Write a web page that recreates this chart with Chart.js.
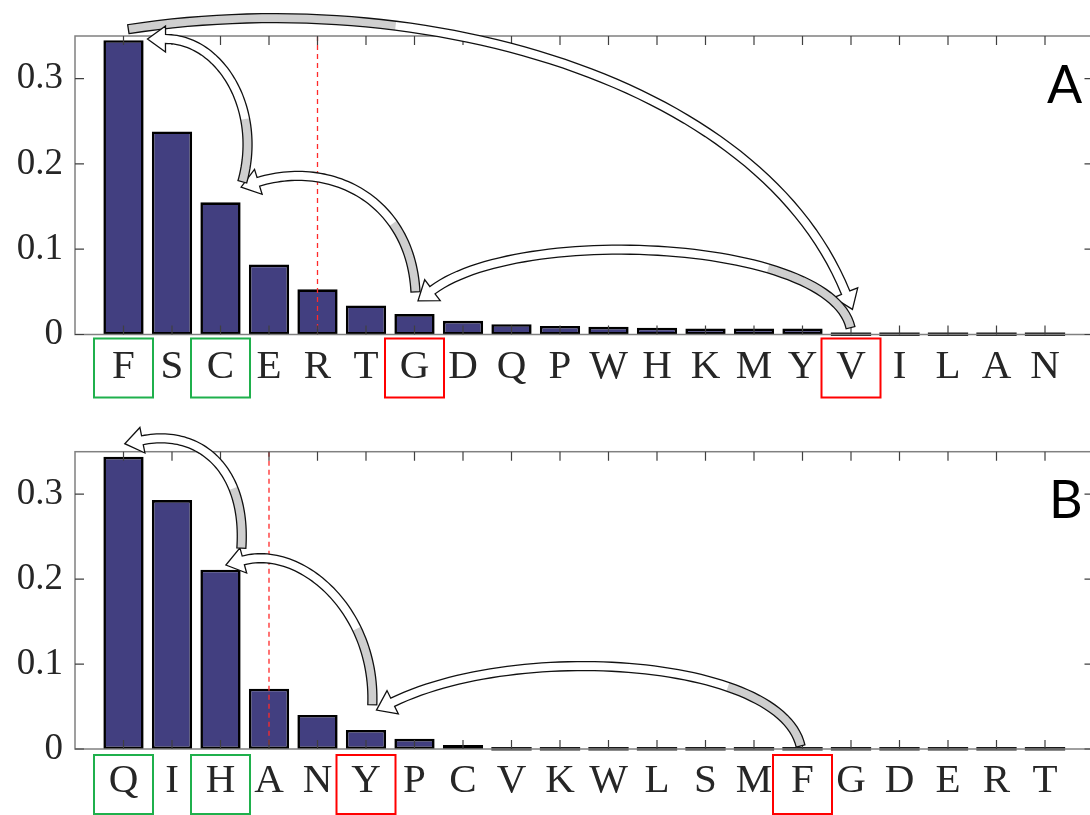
<!DOCTYPE html>
<html>
<head>
<meta charset="utf-8">
<script src="https://cdn.jsdelivr.net/npm/chart.js@4.4.1/dist/chart.umd.min.js"></script>
<style>
html, body { margin: 0; padding: 0; overflow: hidden; background: #fff; width: 1090px; height: 815px; }
canvas { position: absolute; left: 0; }
#graficoA { top: 0; }
#graficoB { top: 410px; }
.painel { position: absolute; font-family: Lato, sans-serif; font-size: 52px; line-height: 52px; color: #000; }
</style>
</head>
<body>
<canvas id="graficoA" width="1100" height="410"></canvas>
<canvas id="graficoB" width="1100" height="405"></canvas>
<div class="painel" style="left:1047px;top:57px">A</div>
<div class="painel" style="left:1049px;top:472px">B</div>
<script>
// dados
const categoriasA = ['F', 'S', 'C', 'E', 'R', 'T', 'G', 'D', 'Q', 'P', 'W', 'H', 'K', 'M', 'Y', 'V', 'I', 'L', 'A', 'N'];
const valoresA = [0.345, 0.238, 0.155, 0.082, 0.053, 0.034, 0.024, 0.016, 0.012, 0.010, 0.009, 0.008, 0.007, 0.007, 0.007, 0, 0, 0, 0, 0];

const categoriasB = ['Q', 'I', 'H', 'A', 'N', 'Y', 'P', 'C', 'V', 'K', 'W', 'L', 'S', 'M', 'F', 'G', 'D', 'E', 'R', 'T'];
const valoresB = [0.344, 0.293, 0.211, 0.071, 0.040, 0.0225, 0.012, 0.0047, 0, 0, 0, 0, 0, 0, 0, 0, 0, 0, 0, 0];

const ticksY = [0, 0.1, 0.2, 0.3];
const textosY = ['0', '0.1', '0.2', '0.3'];

const verdesA = ['F', 'C'];
const vermelhosA = ['G', 'V'];
const verdesB = ['Q', 'H'];
const vermelhosB = ['Y', 'F'];

const corteA = 'R';
const corteB = 'A';

// setas: pontos de controle [indice da categoria, valor]
const setasA = [
    [[0.1, 0.358], [6.12, 0.411], [13.1, 0.30], [14.89, 0.049]],      // F -> V
    [[14.99, 0.008], [14.58, 0.111], [8.19, 0.129], [6.37, 0.052]],   // V -> G
    [[6.02, 0.05], [5.92, 0.158], [4.27, 0.205], [2.78, 0.179]],      // G -> C
    [[2.45, 0.179], [2.87, 0.264], [2.0, 0.3465], [0.866, 0.3465]]    // C -> F
];
const setasB = [
    [[13.96, 0.0035], [13.55, 0.105], [8.19, 0.128], [5.55, 0.055]], // F -> Y
    [[5.13, 0.052], [5.2, 0.164], [3.65, 0.240], [2.47, 0.222]],     // Y -> H
    [[2.43, 0.2365], [2.54, 0.328], [1.59, 0.377], [0.39, 0.3635]]   // H -> Q
];

function pontoBezier(p, t) {
    const u = 1 - t;
    return {
        x: u * u * u * p[0].x + 3 * u * u * t * p[1].x + 3 * u * t * t * p[2].x + t * t * t * p[3].x,
        y: u * u * u * p[0].y + 3 * u * u * t * p[1].y + 3 * u * t * t * p[2].y + t * t * t * p[3].y
    };
}

function desenharSeta(ctx, p) {
    const N = 60, hw = 4.5, hh = 13, hl = 18, fracCinza = 0.3;
    const esq = [], dir = [];
    for (let i = 0; i <= N; i++) {
        const t = i / N;
        const a = pontoBezier(p, Math.max(0, t - 0.01));
        const b = pontoBezier(p, Math.min(1, t + 0.01));
        let dx = b.x - a.x, dy = b.y - a.y;
        const len = Math.hypot(dx, dy) || 1;
        dx /= len; dy /= len;
        const c = pontoBezier(p, t);
        esq.push({ x: c.x - dy * hw, y: c.y + dx * hw });
        dir.push({ x: c.x + dy * hw, y: c.y - dx * hw });
    }
    const fim = p[3];
    let dx = p[3].x - p[2].x, dy = p[3].y - p[2].y;
    const len = Math.hypot(dx, dy) || 1;
    dx /= len; dy /= len;
    const nx = -dy, ny = dx;

    const contorno = () => {
        ctx.beginPath();
        ctx.moveTo(esq[0].x, esq[0].y);
        for (let i = 1; i <= N; i++) ctx.lineTo(esq[i].x, esq[i].y);
        ctx.lineTo(fim.x + nx * hh, fim.y + ny * hh);
        ctx.lineTo(fim.x + dx * hl, fim.y + dy * hl);
        ctx.lineTo(fim.x - nx * hh, fim.y - ny * hh);
        for (let i = N; i >= 0; i--) ctx.lineTo(dir[i].x, dir[i].y);
        ctx.closePath();
    };

    contorno();
    ctx.fillStyle = '#ffffff';
    ctx.fill();

    const k = Math.round(N * fracCinza);
    ctx.beginPath();
    ctx.moveTo(esq[0].x, esq[0].y);
    for (let i = 1; i <= k; i++) ctx.lineTo(esq[i].x, esq[i].y);
    for (let i = k; i >= 0; i--) ctx.lineTo(dir[i].x, dir[i].y);
    ctx.closePath();
    ctx.fillStyle = '#cfcfcf';
    ctx.fill();

    contorno();
    ctx.strokeStyle = '#111';
    ctx.lineWidth = 1.3;
    ctx.stroke();
}

function criarGrafico(id, categorias, valores, cfg) {
    // posicao no eixo x: categoria i fica em i + 1 (limites 0 e 21, como no original)
    const posX = (i) => i + 1;

    const extras = {
        id: 'extras',
        afterDatasetsDraw(chart) {
            const ctx = chart.ctx;
            const area = chart.chartArea;
            const x = chart.scales.x;
            const y = chart.scales.y;
            ctx.save();

            // barras com valor zero aparecem como traco
            chart.getDatasetMeta(0).data.forEach(bar => {
                if (Math.abs(bar.base - bar.y) < 3) {
                    ctx.fillStyle = '#1a1a1a';
                    ctx.fillRect(bar.x - bar.width / 2, area.bottom - 2, bar.width, 3.5);
                }
            });

            // linha de corte
            const xc = x.getPixelForValue(posX(categorias.indexOf(cfg.corte)));
            ctx.strokeStyle = '#ff2a2a';
            ctx.lineWidth = 1.3;
            ctx.setLineDash([5, 4]);
            ctx.beginPath();
            ctx.moveTo(xc, area.top);
            ctx.lineTo(xc, area.bottom);
            ctx.stroke();
            ctx.setLineDash([]);

            // caixa do eixo
            ctx.strokeStyle = '#808080';
            ctx.lineWidth = 1.5;
            ctx.strokeRect(area.left, area.top, area.right - area.left, area.bottom - area.top);

            // ticks para dentro
            ctx.strokeStyle = '#404040';
            ctx.lineWidth = 1.2;
            ctx.beginPath();
            categorias.forEach((c, i) => {
                const px = x.getPixelForValue(posX(i));
                ctx.moveTo(px, area.bottom);
                ctx.lineTo(px, area.bottom - 9);
                ctx.moveTo(px, area.top);
                ctx.lineTo(px, area.top + 9);
            });
            ticksY.forEach(v => {
                const py = y.getPixelForValue(v);
                ctx.moveTo(area.left, py);
                ctx.lineTo(area.left + 9, py);
                ctx.moveTo(area.right, py);
                ctx.lineTo(area.right - 9, py);
            });
            ctx.stroke();

            // caixas nos rotulos
            ctx.lineWidth = 2;
            const caixa = (letra, cor) => {
                const px = x.getPixelForValue(posX(categorias.indexOf(letra)));
                ctx.strokeStyle = cor;
                ctx.strokeRect(px - 29.5, area.bottom + cfg.caixaTopo, 59, 59);
            };
            cfg.verdes.forEach(l => caixa(l, '#1fb04c'));
            cfg.vermelhos.forEach(l => caixa(l, '#ff0000'));

            // setas
            cfg.setas.forEach(s => {
                const pts = s.map(([i, v]) => ({ x: x.getPixelForValue(posX(i)), y: y.getPixelForValue(v) }));
                desenharSeta(ctx, pts);
            });

            ctx.restore();
        }
    };

    return new Chart(document.getElementById(id), {
        type: 'bar',
        data: {
            datasets: [{
                data: valores.map((v, i) => ({ x: posX(i), y: v })),
                backgroundColor: '#423f80',
                borderColor: '#000000',
                borderWidth: 2.6,
                borderSkipped: false,
                barPercentage: 0.83,
                categoryPercentage: 1.0
            }]
        },
        options: {
            responsive: false,
            animation: false,
            layout: { padding: { top: cfg.topo, right: 6.5, left: 0, bottom: 0 } },
            plugins: {
                legend: { display: false },
                tooltip: { enabled: false }
            },
            scales: {
                x: {
                    type: 'linear',
                    min: 0,
                    max: categorias.length + 1,
                    offset: false,
                    grid: { display: false, drawTicks: false },
                    border: { display: false },
                    afterBuildTicks(s) { s.ticks = categorias.map((c, i) => ({ value: posX(i) })); },
                    ticks: {
                        color: '#262626',
                        font: { family: "'Liberation Serif', serif", size: 41 },
                        padding: 8,
                        autoSkip: false,
                        maxRotation: 0,
                        callback: (v) => categorias[v - 1]
                    },
                    afterFit(s) { s.height = cfg.alturaX; }
                },
                y: {
                    min: 0,
                    max: 0.35,
                    grid: { display: false, drawTicks: false },
                    border: { display: false },
                    afterBuildTicks(s) { s.ticks = ticksY.map(v => ({ value: v })); },
                    ticks: {
                        color: '#262626',
                        font: { family: "'Liberation Serif', serif", size: 37 },
                        padding: 12,
                        callback: (v) => textosY[ticksY.indexOf(v)]
                    },
                    afterFit(s) { s.width = 75; }
                }
            }
        },
        plugins: [extras]
    });
}

criarGrafico('graficoA', categoriasA, valoresA, {
    topo: 36, alturaX: 75.5, corte: corteA,
    verdes: verdesA, vermelhos: vermelhosA, setas: setasA, caixaTopo: 4
});
criarGrafico('graficoB', categoriasB, valoresB, {
    topo: 41.7, alturaX: 66, corte: corteB,
    verdes: verdesB, vermelhos: vermelhosB, setas: setasB, caixaTopo: 6
});
</script>
</body>
</html>
